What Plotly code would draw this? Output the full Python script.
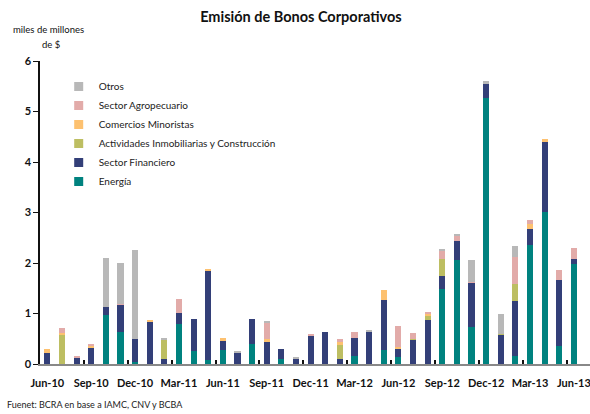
import plotly.graph_objects as go

# Monthly corporate bond issuance, Jun-2010 .. Jun-2013 (billions of $)
months = ["Jun-10", "Jul-10", "Aug-10", "Sep-10", "Oct-10", "Nov-10", "Dec-10",
          "Jan-11", "Feb-11", "Mar-11", "Apr-11", "May-11", "Jun-11", "Jul-11",
          "Aug-11", "Sep-11", "Oct-11", "Nov-11", "Dec-11", "Jan-12", "Feb-12",
          "Mar-12", "Apr-12", "May-12", "Jun-12", "Jul-12", "Aug-12", "Sep-12",
          "Oct-12", "Nov-12", "Dec-12", "Jan-13", "Feb-13", "Mar-13", "Apr-13",
          "May-13", "Jun-13"]

energia = [0, 0, 0, 0, 0.97, 0.64, 0.03, 0, 0, 0.80, 0.26, 0.07, 0.28, 0,
           0.40, 0, 0.09, 0, 0, 0, 0, 0.16, 0, 0.28, 0.13, 0, 0, 1.49,
           2.06, 0.74, 5.26, 0, 0.16, 2.36, 3.01, 0.36, 1.98]
financiero = [0.21, 0, 0.11, 0.32, 0.16, 0.53, 0.47, 0.84, 0.09, 0.21, 0.63, 1.77,
              0.18, 0.22, 0.49, 0.44, 0.21, 0.11, 0.56, 0.64, 0.09, 0.36, 0.64,
              0.99, 0.17, 0.48, 0.88, 0.25, 0.37, 0.87, 0.29, 0.58, 1.09, 0.31,
              1.38, 1.30, 0.10]
actividades = [0, 0.59, 0, 0, 0, 0, 0, 0, 0.40, 0, 0, 0, 0, 0, 0, 0, 0, 0, 0, 0,
               0.29, 0, 0, 0, 0, 0.02, 0.08, 0.34, 0, 0, 0, 0.02, 0.34, 0, 0, 0, 0]
comercios = [0.09, 0.02, 0, 0.04, 0, 0, 0, 0.02, 0, 0, 0, 0.04, 0.06, 0, 0, 0.06,
             0, 0, 0, 0, 0.06, 0, 0, 0.20, 0.04, 0, 0.04, 0, 0, 0, 0, 0, 0,
             0.10, 0.06, 0, 0]
agropecuario = [0, 0.11, 0.04, 0.03, 0, 0.02, 0, 0, 0, 0.27, 0, 0, 0, 0, 0, 0.32,
                0, 0, 0.02, 0, 0.06, 0.12, 0, 0, 0.42, 0.12, 0.02, 0.16, 0.12,
                0.02, 0, 0, 0.53, 0.08, 0, 0.20, 0.22]
otros = [0, 0, 0, 0, 0.97, 0.81, 1.76, 0, 0.02, 0, 0, 0, 0, 0.02, 0, 0.04, 0,
         0.02, 0, 0, 0, 0, 0.02, 0, 0, 0, 0, 0.02, 0.02, 0.43, 0.06, 0.39,
         0.22, 0, 0, 0, 0]

series = [
    ("Energía", energia, "#00827F"),
    ("Sector Financiero", financiero, "#333F78"),
    ("Actividades Inmobiliarias y Construcción", actividades, "#BDBE62"),
    ("Comercios Minoristas", comercios, "#FDC170"),
    ("Sector Agropecuario", agropecuario, "#E2ABA9"),
    ("Otros", otros, "#B8B8B8"),
]

FONT = "Lato"
idx = list(range(len(months)))
label_idx = idx[::3]
label_txt = months[::3]

fig = go.Figure()
for name, vals, color in series:
    fig.add_trace(go.Bar(x=idx, y=vals, name=name, marker=dict(color=color, line=dict(width=0)),
                         width=0.42, showlegend=False))
    # small square legend swatch
    fig.add_trace(go.Scatter(x=[None], y=[None], mode="markers", name=name,
                             marker=dict(symbol="square", size=9, color=color)))

fig.update_layout(
    width=590, height=414,
    barmode="stack",
    paper_bgcolor="white", plot_bgcolor="white",
    margin=dict(l=40, r=0, t=61, b=50),
    title=dict(text="<b>Emisión de Bonos Corporativos</b>", x=0.51, xanchor="center",
               y=0.958, yanchor="middle", font=dict(family=FONT, size=14.5, color="#111")),
    font=dict(family=FONT, color="#111"),
    legend=dict(x=0.034, y=0.964, xanchor="left", yanchor="top", traceorder="reversed",
                font=dict(family=FONT, size=10, color="#222"), bgcolor="rgba(0,0,0,0)",
                itemwidth=30, tracegroupgap=0),
    xaxis=dict(range=[-0.5, 37.1], tickmode="array", tickvals=label_idx, ticktext=label_txt,
               showline=True, linecolor="#888", linewidth=2, ticks="", showgrid=False,
               zeroline=False, tickfont=dict(family=FONT, size=11, color="#111", weight="bold"),
               ticklabelstandoff=8, ticklabeloverflow="allow"),
    xaxis2=dict(range=[-0.5, 37.1], overlaying="x", anchor="y", side="bottom",
                tickmode="array", tickvals=[i - 0.5 for i in label_idx[1:]], ticktext=[""] * 12,
                ticks="inside", ticklen=4, tickwidth=2, tickcolor="#111", showline=False,
                showgrid=False, zeroline=False, showticklabels=False),
    yaxis=dict(range=[0, 6], tickvals=[0, 1, 2, 3, 4, 5, 6], showline=True, linecolor="#111",
               linewidth=1.5, ticks="outside", ticklen=5, tickcolor="#111", showgrid=False,
               zeroline=False, tickfont=dict(family=FONT, size=11, color="#111", weight="bold")),
)
# dummy trace so the secondary x axis (inside month ticks) is drawn
fig.add_trace(go.Scatter(x=[None], y=[None], xaxis="x2", showlegend=False, hoverinfo="skip"))

fig.add_annotation(text="miles de millones", xref="paper", yref="paper", x=-0.053, y=1.105,
                   xanchor="left", yanchor="middle", showarrow=False,
                   font=dict(family=FONT, size=9.5, color="#111"))
fig.add_annotation(text="de $", xref="paper", yref="paper", x=-0.0, y=1.053,
                   xanchor="left", yanchor="middle", showarrow=False,
                   font=dict(family=FONT, size=9.5, color="#111"))
fig.add_annotation(text="Fuenet: BCRA en base a IAMC, CNV y BCBA", xref="paper", yref="paper",
                   x=-0.063, y=-0.135, xanchor="left", yanchor="middle", showarrow=False,
                   font=dict(family=FONT, size=9, color="#222"))

fig.write_html("out.html")
